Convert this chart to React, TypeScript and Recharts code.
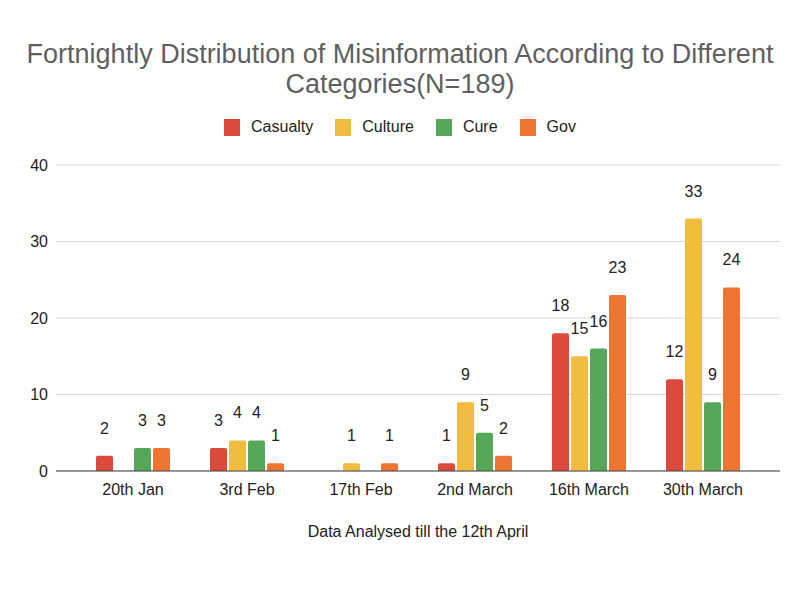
import { BarChart, Bar, XAxis, YAxis, CartesianGrid, LabelList } from "recharts";

const periods = ["20th Jan", "3rd Feb", "17th Feb", "2nd March", "16th March", "30th March"];
const casualty = [2, 3, 0, 1, 18, 12];
const culture = [0, 4, 1, 9, 15, 33];
const cure = [3, 4, 0, 5, 16, 9];
const gov = [3, 1, 1, 2, 23, 24];
const yTicks = [0, 10, 20, 30, 40];

const series = [
  { key: "casualty", name: "Casualty", color: "#db4a3c" },
  { key: "culture", name: "Culture", color: "#f1bc3f" },
  { key: "cure", name: "Cure", color: "#55a759" },
  { key: "gov", name: "Gov", color: "#ee7431" },
];

const data = periods.map((period, i) => ({
  period,
  casualty: casualty[i],
  culture: culture[i],
  cure: cure[i],
  gov: gov[i],
}));

const FONT = '"Liberation Sans", Arial, sans-serif';

export default function App() {
  return (
    <div
      style={{
        position: "absolute",
        left: 0,
        top: 0,
        width: 800,
        height: 600,
        background: "#fff",
        fontFamily: FONT,
      }}
    >
      <div
        style={{
          position: "absolute",
          top: 39,
          left: 0,
          width: 800,
          textAlign: "center",
          fontSize: 27,
          lineHeight: "30px",
          color: "#5f5f5f",
        }}
      >
        Fortnightly Distribution of Misinformation According to Different
        <br />
        Categories(N=189)
      </div>

      <div
        style={{
          position: "absolute",
          top: 118,
          left: 0,
          width: 800,
          display: "flex",
          justifyContent: "center",
          fontSize: 16,
          color: "#222",
        }}
      >
        {series.map((s) => (
          <div key={s.key} style={{ display: "flex", alignItems: "center", margin: "0 11px" }}>
            <div style={{ width: 16, height: 17, background: s.color, marginRight: 11 }}></div>
            <span>{s.name}</span>
          </div>
        ))}
      </div>

      <BarChart
        width={800}
        height={600}
        data={data}
        margin={{ top: 165, right: 20, left: 0, bottom: 99 }}
        barCategoryGap={20}
        barGap={2}
        style={{ fontFamily: FONT }}
      >
        <CartesianGrid vertical={false} stroke="#d9d9d9" />
        <XAxis
          dataKey="period"
          height={30}
          tickLine={false}
          tickMargin={7}
          axisLine={{ stroke: "#444" }}
          tick={{ fill: "#222", fontSize: 16 }}
          padding={{ left: 20, right: 20 }}
          label={{
            value: "Data Analysed till the 12th April",
            position: "bottom",
            offset: 25,
            fill: "#222",
            fontSize: 16,
          }}
        />
        <YAxis
          width={56}
          domain={[0, 40]}
          ticks={yTicks}
          axisLine={false}
          tickLine={false}
          tick={{ fill: "#222", fontSize: 16 }}
        />
        {series.map((s) => (
          <Bar
            key={s.key}
            dataKey={s.key}
            name={s.name}
            fill={s.color}
            radius={[2, 2, 0, 0]}
            isAnimationActive={false}
          >
            <LabelList
              dataKey={s.key}
              position="top"
              offset={22}
              fill="#222"
              fontSize={16}
              formatter={(v: any) => (v === 0 ? "" : v)}
            />
          </Bar>
        ))}
      </BarChart>
    </div>
  );
}
